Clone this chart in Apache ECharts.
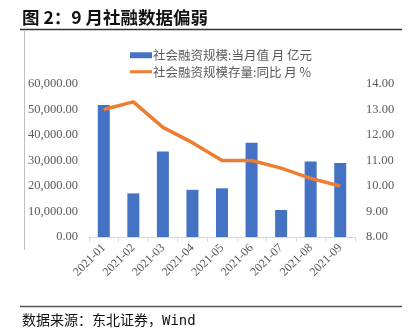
<!DOCTYPE html>
<html><head><meta charset="utf-8">
<script src="https://cdn.jsdelivr.net/npm/echarts@6/dist/echarts.min.js"></script>
<style>html,body{margin:0;padding:0;background:#fff}#c{width:409px;height:333px}</style>
</head><body><div id="c"></div>
<script>
const categories = ['2021-01','2021-02','2021-03','2021-04','2021-05','2021-06','2021-07','2021-08','2021-09'];
const tsfMonthly = [51800, 17100, 33500, 18500, 19100, 37000, 10600, 29600, 29000];
const tsfStockYoY = [13.0, 13.3, 12.3, 11.7, 11.0, 11.0, 10.7, 10.3, 10.0];
const seriesNames = ['社会融资规模:当月值 月 亿元', '社会融资规模存量:同比 月 %'];
const titleText = '图 2：9 月社融数据偏弱';
const sourceText = '数据来源：东北证券，Wind';

const chart = echarts.init(document.getElementById('c'), null, {renderer:'canvas'});
const labelFont = {fontFamily:'Liberation Serif', fontSize:12.5, color:'#595959'};
chart.setOption({
  animation:false,
  backgroundColor:'#fff',
  grid:{left:89, right:54, top:84, bottom:96},
  legend:{
    left:125, top:44, orient:'vertical', itemGap:4, itemWidth:22, itemHeight:6,
    textStyle:{fontFamily:'Noto Sans CJK SC', fontSize:12.5, color:'#595959', padding:[0,0,0,-4]},
    data:[{name:seriesNames[0], icon:'rect'},{name:seriesNames[1], icon:'path://M0,0L22,0L22,3L0,3Z'}]
  },
  xAxis:{
    type:'category', data:categories, boundaryGap:true,
    axisLine:{lineStyle:{color:'#d9d9d9'}},
    axisTick:{show:true, alignWithLabel:false, length:5, lineStyle:{color:'#d9d9d9'}},
    axisLabel:Object.assign({rotate:45, margin:9, interval:0}, labelFont, {fontSize:12})
  },
  yAxis:[
    {type:'value', min:0, max:60000, interval:10000, splitLine:{show:false}, axisLine:{show:false}, axisTick:{show:false},
     axisLabel:Object.assign({margin:11, formatter:v=>v.toLocaleString('en-US',{minimumFractionDigits:2, maximumFractionDigits:2})}, labelFont)},
    {type:'value', min:8, max:14, interval:1, splitLine:{show:false}, axisLine:{show:false}, axisTick:{show:false},
     axisLabel:Object.assign({margin:11, formatter:v=>v.toFixed(2)}, labelFont)}
  ],
  series:[
    {name:seriesNames[0], type:'bar', data:tsfMonthly, barWidth:12, itemStyle:{color:'#4472c4'}},
    {name:seriesNames[1], type:'line', yAxisIndex:1, data:tsfStockYoY, symbol:'none',
     lineStyle:{color:'#ed7d31', width:3.5}, itemStyle:{color:'#ed7d31'}}
  ],
  graphic:[
    {type:'text', x:22, y:17, style:{text:titleText, fontFamily:'Noto Sans CJK SC', fontSize:17.5, fontWeight:'bold', fill:'#111', verticalAlign:'middle', align:'left'}},
    {type:'line', shape:{x1:20, y1:29.5, x2:402, y2:29.5}, style:{stroke:'#333', lineWidth:1.5}},
    {type:'line', shape:{x1:24.5, y1:31, x2:24.5, y2:250}, style:{stroke:'#bfbfbf', lineWidth:1}},
    {type:'line', shape:{x1:20, y1:306.5, x2:402, y2:306.5}, style:{stroke:'#555', lineWidth:1.5}},
    {type:'text', x:22, y:321, style:{text:sourceText, fontFamily:'"DejaVu Sans Mono", "Noto Sans CJK SC"', fontSize:14, fill:'#111', verticalAlign:'middle', align:'left'}}
  ]
});
</script></body></html>
